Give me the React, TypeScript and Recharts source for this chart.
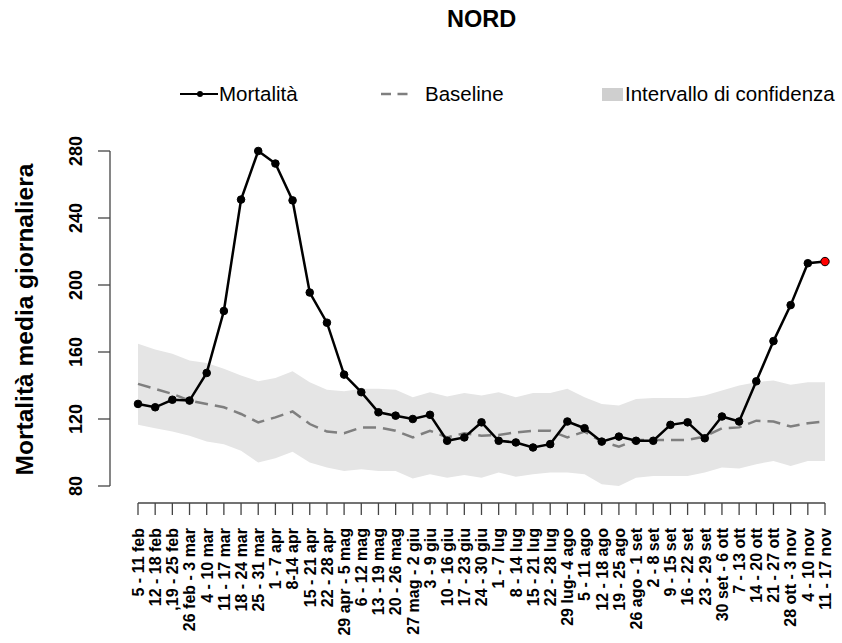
import { ComposedChart, Line, Area, XAxis, YAxis } from 'recharts'

const weeks = [
  '5 - 11 feb', '12 - 18 feb', ',19 - 25 feb', '26 feb - 3 mar', '4 - 10 mar',
  '11 - 17 mar', '18 - 24 mar', '25 - 31 mar', '1 - 7 apr', '8-14 apr',
  '15 - 21 apr', '22 - 28 apr', '29 apr - 5 mag', '6 - 12 mag', '13 - 19 mag',
  '20 - 26 mag', '27 mag - 2 giu', '3 - 9 giu', '10 - 16 giu', '17 - 23 giu',
  '24 - 30 giu', '1 - 7 lug', '8 - 14 lug', '15 - 21 lug', '22 - 28 lug',
  '29 lug- 4 ago', '5 - 11 ago', '12 - 18 ago', '19 - 25 ago', '26 ago - 1 set',
  '2 - 8 set', '9 - 15 set', '16 - 22 set', '23 - 29 set', '30 set - 6 ott',
  '7 - 13 ott', '14 - 20 ott', '21 - 27 ott', '28 ott - 3 nov', '4 - 10 nov',
  '11 - 17 nov',
]

const mortalita = [
  129, 127, 131.5, 131, 147.5, 184.5, 251, 280, 272.5, 250.5,
  195.5, 177.5, 146.5, 136, 124, 122, 120, 122.5, 107, 109,
  118, 107, 106, 103, 105, 118.5, 114.5, 106.5, 109.5, 107,
  107, 116.5, 118, 108.5, 121.5, 118.5, 142.5, 166.5, 188, 213,
  214,
]

const baseline = [
  141, 138, 135, 131, 129, 127, 123, 118, 121, 124.5,
  117, 112.5, 111.5, 115, 115, 113, 109, 113, 109, 111.5,
  110, 110.5, 112, 113, 113, 109, 112.5, 106.5, 103.5, 107.5,
  107.5, 107.5, 107.5, 109.5, 114.5, 115, 119, 118.5, 115.5, 117.5,
  118.5,
]

const ciLow = [
  116.5, 114.5, 112.5, 110, 106.5, 105, 101, 94, 96.5, 100.5,
  94, 91, 89, 90, 89, 89, 84.5, 87, 85, 86.5,
  85, 88, 85.5, 87, 88, 88, 87, 81, 80, 85,
  86, 86, 86, 88, 91, 90.5, 93, 95, 92, 95,
  95,
]

const ciHigh = [
  165, 161.5, 159, 155, 153.5, 150, 146, 142.5, 144.5, 148.5,
  142, 137.5, 136.5, 138, 138, 137.5, 133, 136, 133.5, 135.5,
  134, 136, 133, 135.5, 135.5, 138, 133, 129, 128, 132,
  132.5, 132.5, 132.5, 134, 137, 140, 142, 143, 140.5, 142,
  142,
]

const yTicks = [80, 120, 160, 200, 240, 280]

const data = weeks.map((week, i) => ({
  week,
  mortalita: mortalita[i],
  baseline: baseline[i],
  ci: [ciLow[i], ciHigh[i]],
}))

const W = 842
const H = 643
const MARGIN = { top: 151, right: 17, bottom: 127, left: 78 }
const Y_AXIS_W = 60
const X_AXIS_H = 30
const PLOT_W = W - MARGIN.left - Y_AXIS_W - MARGIN.right
const PLOT_H = H - MARGIN.top - MARGIN.bottom - X_AXIS_H
const FONT = '"Liberation Sans", Arial, Helvetica, sans-serif'
const AXIS_COLOR = '#444'

function XTick({ x, y, payload }: { x: number; y: number; payload: { value: string } }) {
  const axisY = y + 17
  return (
    <g>
      {payload.value === weeks[0] && (
        <line x1={x} y1={axisY} x2={x + PLOT_W} y2={axisY} stroke={AXIS_COLOR} strokeWidth={1.3} />
      )}
      <line x1={x} y1={axisY} x2={x} y2={axisY + 12} stroke={AXIS_COLOR} strokeWidth={1.3} />
      <text
        transform={`translate(${x + 5.8},${axisY + 25}) rotate(-90)`}
        textAnchor="end"
        fontFamily={FONT}
        fontWeight={700}
        fontSize={16}
        fill="#000"
      >
        {payload.value}
      </text>
    </g>
  )
}

function YTick({ x, y, payload }: { x: number; y: number; payload: { value: number } }) {
  const axisX = x - 28
  return (
    <g>
      {payload.value === yTicks[0] && (
        <line x1={axisX} y1={y} x2={axisX} y2={y - PLOT_H} stroke={AXIS_COLOR} strokeWidth={1.3} />
      )}
      <line x1={axisX} y1={y} x2={axisX - 12} y2={y} stroke={AXIS_COLOR} strokeWidth={1.3} />
      <text
        transform={`translate(${axisX - 28.5},${y}) rotate(-90)`}
        textAnchor="middle"
        fontFamily={FONT}
        fontWeight={700}
        fontSize={18}
        fill="#000"
      >
        {payload.value}
      </text>
    </g>
  )
}

function MortDot(props: { cx?: number; cy?: number; index?: number }) {
  const { cx, cy, index } = props
  const last = index === mortalita.length - 1
  return (
    <circle
      key={`dot-${index}`}
      cx={cx}
      cy={cy}
      r={last ? 4.2 : 3.8}
      fill={last ? '#ff0000' : '#000'}
      stroke="#000"
      strokeWidth={1}
    />
  )
}

export default function App() {
  return (
    <div style={{ position: 'absolute', left: 0, top: 0, width: W, height: H, background: '#fff' }}>
      <ComposedChart width={W} height={H} data={data} margin={MARGIN}>
        <XAxis
          dataKey="week"
          height={X_AXIS_H}
          interval={0}
          axisLine={false}
          tickLine={false}
          tickSize={0}
          tickMargin={0}
          tick={XTick}
        />
        <YAxis
          domain={[80, 280]}
          ticks={yTicks}
          width={Y_AXIS_W}
          axisLine={false}
          tickLine={false}
          tickSize={0}
          tickMargin={0}
          tick={YTick}
        />
        <Area
          dataKey="ci"
          type="linear"
          stroke="none"
          fill="#e5e5e5"
          fillOpacity={1}
          isAnimationActive={false}
        />
        <Line
          dataKey="baseline"
          type="linear"
          stroke="#7f7f7f"
          strokeWidth={2.5}
          strokeDasharray="13 7"
          dot={false}
          activeDot={false}
          isAnimationActive={false}
        />
        <Line
          dataKey="mortalita"
          type="linear"
          stroke="#000"
          strokeWidth={2.5}
          dot={MortDot}
          activeDot={false}
          isAnimationActive={false}
        />
      </ComposedChart>
      <svg
        width={W}
        height={H}
        style={{ position: 'absolute', left: 0, top: 0, pointerEvents: 'none' }}
      >
        <text x={481.7} y={26.7} textAnchor="middle" fontFamily={FONT} fontWeight={700} fontSize={23.5}>
          NORD
        </text>
        <line x1={180} y1={94} x2={218} y2={94} stroke="#000" strokeWidth={2} />
        <circle cx={200} cy={94} r={3} fill="#000" />
        <text x={219} y={100.7} fontFamily={FONT} fontSize={20.5}>
          Mortalità
        </text>
        <line x1={381} y1={94} x2={413} y2={94} stroke="#7f7f7f" strokeWidth={2.5} strokeDasharray="10 6.5" />
        <text x={425} y={100.7} fontFamily={FONT} fontSize={20.5}>
          Baseline
        </text>
        <rect x={602} y={88} width={21} height={13} fill="#cfcfcf" />
        <text x={625} y={100.7} fontFamily={FONT} fontSize={20.5}>
          Intervallo di confidenza
        </text>
        <text
          transform="translate(33,319.5) rotate(-90)"
          textAnchor="middle"
          fontFamily={FONT}
          fontWeight={700}
          fontSize={24.5}
        >
          Mortalità media giornaliera
        </text>
      </svg>
    </div>
  )
}
